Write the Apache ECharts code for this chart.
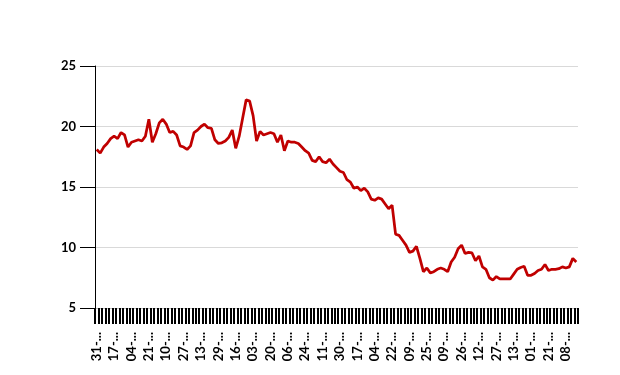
<!DOCTYPE html>
<html>
<head>
<meta charset="utf-8">
<script src="https://cdn.jsdelivr.net/npm/echarts@6/dist/echarts.min.js"></script>
<style>
html,body{margin:0;padding:0;background:#fff;}
#chart{width:620px;height:375px;}
</style>
</head>
<body>
<div id="chart"></div>
<script>
// Tick labels shown every 5th category (truncated dates as in the reference)
var tickLabels = ['31','17','04','21','10','27','13','29','16','03','20','06','24','11',
                  '30','17','04','22','09','25','09','26','12','27','13','01','21','08'];

// Series values
var values = [
  18.1, 17.8, 18.3, 18.6, 19.0, 19.2, 19.0, 19.5, 19.3, 18.3,
  18.7, 18.8, 18.9, 18.8, 19.2, 20.6, 18.7, 19.4, 20.3, 20.6,
  20.2, 19.5, 19.6, 19.3, 18.4, 18.3, 18.1, 18.4, 19.5, 19.7,
  20.0, 20.2, 19.9, 19.85, 18.9, 18.6, 18.65, 18.8, 19.1, 19.7,
  18.2, 19.2, 20.7, 22.2, 22.1, 20.9, 18.8, 19.6, 19.3, 19.4,
  19.5, 19.4, 18.7, 19.3, 18.0, 18.8, 18.7, 18.7, 18.6, 18.3,
  18.0, 17.8, 17.2, 17.1, 17.5, 17.1, 17.0, 17.3, 16.9, 16.6,
  16.3, 16.2, 15.6, 15.4, 14.9, 15.0, 14.7, 14.9, 14.6, 14.0,
  13.9, 14.1, 14.0, 13.6, 13.2, 13.5, 11.1, 11.0, 10.6, 10.2,
  9.6, 9.7, 10.1, 9.1, 8.0, 8.3, 7.9, 8.0, 8.2, 8.3,
  8.2, 8.0, 8.8, 9.2, 9.9, 10.2, 9.5, 9.6, 9.55, 8.9,
  9.3, 8.4, 8.2, 7.5, 7.3, 7.6, 7.4, 7.4, 7.4, 7.4,
  7.8, 8.2, 8.35, 8.45, 7.7, 7.7, 7.85, 8.1, 8.2, 8.6,
  8.1, 8.2, 8.2, 8.25, 8.4, 8.3, 8.4, 9.1, 8.8
];

// Category names: labelled slots carry the tick label, others a unique key
var categories = values.map(function (v, i) {
  return (i % 5 === 0) ? tickLabels[i / 5] + '-...' : 'c' + i;
});

var yTicks = [5, 10, 15, 20, 25];

var chart = echarts.init(document.getElementById('chart'), null, {renderer: 'canvas'});
chart.setOption({
  animation: false,
  backgroundColor: '#ffffff',
  grid: {left: 95, right: 42, top: 66, bottom: 67, containLabel: false},
  xAxis: {
    type: 'category',
    data: categories,
    boundaryGap: true,
    axisLine: {show: true, lineStyle: {color: '#bfbfbf', width: 1}},
    axisTick: {show: true, interval: 0, length: 16, lineStyle: {color: '#000000', width: 2}},
    axisLabel: {
      interval: 4,
      rotate: 90,
      margin: 24,
      color: '#000000',
      fontFamily: 'Lato',
      fontWeight: 'bold',
      fontSize: 13,
      formatter: function (val) { return val; }
    },
    splitLine: {show: false}
  },
  yAxis: {
    type: 'value',
    min: yTicks[0],
    max: yTicks[yTicks.length - 1],
    interval: 5,
    axisLine: {show: true, lineStyle: {color: '#000000', width: 1}},
    axisTick: {show: true, length: 15, lineStyle: {color: '#000000', width: 1}},
    axisLabel: {
      margin: 19,
      color: '#000000',
      fontFamily: 'Lato',
      fontWeight: 'bold',
      fontSize: 13
    },
    splitLine: {show: true, lineStyle: {color: '#d9d9d9', width: 1}}
  },
  series: [{
    type: 'line',
    data: values,
    showSymbol: false,
    symbol: 'none',
    lineStyle: {color: '#c00000', width: 2.75},
    itemStyle: {color: '#c00000'}
  }]
});
</script>
</body>
</html>
